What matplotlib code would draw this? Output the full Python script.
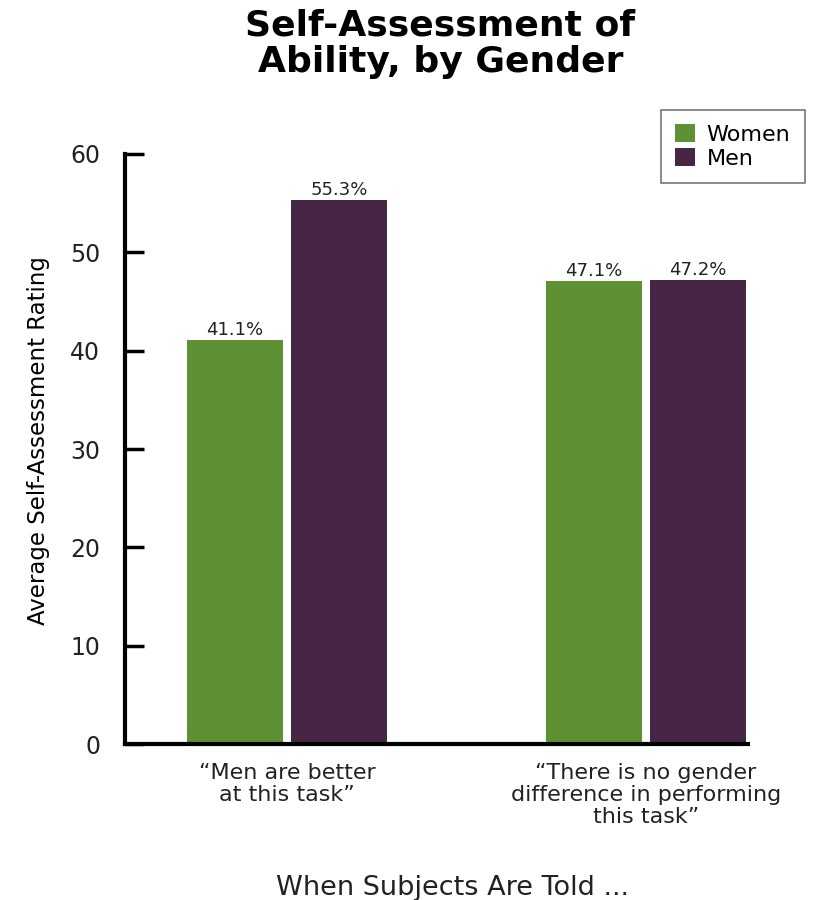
import matplotlib
matplotlib.use("Agg")
import matplotlib.pyplot as plt
import numpy as np

# data
groups = ["\u201cMen are better\nat this task\u201d",
          "\u201cThere is no gender\ndifference in performing\nthis task\u201d"]
women = [41.1, 47.1]
men = [55.3, 47.2]
women_labels = ["41.1%", "47.1%"]
men_labels = ["55.3%", "47.2%"]

green = "#5e9134"
purple = "#472645"

fig = plt.figure(figsize=(8.34, 9.0), dpi=100)
ax = fig.add_axes([0.150, 0.1733, 0.747, 0.6556])

x = np.arange(len(groups))
w = 0.267
off = 0.145
b1 = ax.bar(x - off, women, w, color=green, label="Women")
b2 = ax.bar(x + off, men, w, color=purple, label="Men")

for bars, labs in ((b1, women_labels), (b2, men_labels)):
    for r, lab in zip(bars, labs):
        ax.text(r.get_x() + r.get_width() / 2, r.get_height() + 0.1, lab,
                ha="center", va="bottom", fontsize=13, color="#222222")

ax.set_xlim(-0.451, 1.284)
ax.set_ylim(0, 60)
ax.set_yticks(range(0, 61, 10))
ax.set_xticks(x)
ax.set_xticklabels(groups, fontsize=16, color="#222222", linespacing=1.12)

for s in ("top", "right"):
    ax.spines[s].set_visible(False)
for s in ("left", "bottom"):
    ax.spines[s].set_linewidth(3)
ax.tick_params(axis="y", direction="in", length=14, width=2.5,
               labelsize=17, pad=18, labelcolor="#222222")
ax.tick_params(axis="x", length=0, pad=14)

ax.set_ylabel("Average Self-Assessment Rating", fontsize=16.5)
ax.yaxis.set_label_coords(-0.12, 0.514)

fig.text(0.543, 0.006, "When Subjects Are Told ...", ha="center",
         fontsize=19.5, color="#222222")
fig.text(0.528, 0.99, "Self-Assessment of\nAbility, by Gender",
         ha="center", va="top", fontsize=26, fontweight="bold",
         linespacing=1.08)

leg = fig.legend(loc="upper left", bbox_to_anchor=(0.7926, 0.878),
                 borderaxespad=0, fontsize=16, frameon=True, fancybox=False,
                 handlelength=0.9, handleheight=0.85, handletextpad=0.5,
                 borderpad=0.65, labelspacing=0.15)
leg.get_frame().set_edgecolor("#555555")
leg.get_frame().set_linewidth(1.2)

fig.savefig("out.png", dpi=100)
